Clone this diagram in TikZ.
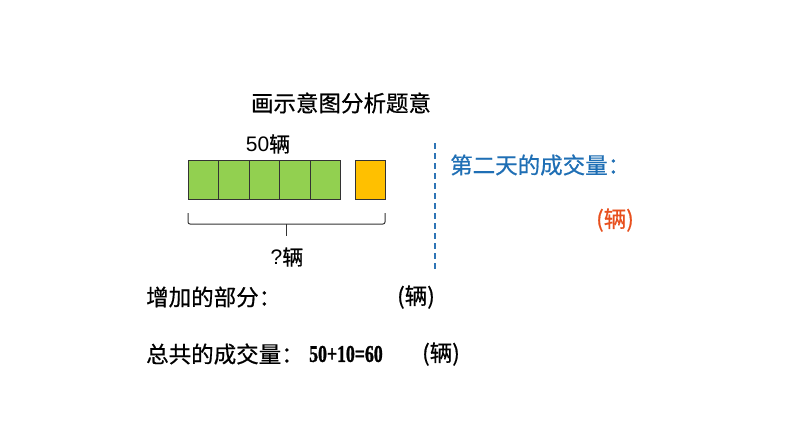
\documentclass[tikz,border=0pt]{standalone}
\usepackage{fontspec}
\setmainfont{Noto Sans CJK SC}
\newfontfamily\cjk{Noto Sans CJK SC}[FakeBold=0.6]
\newfontfamily\latinsans{Liberation Sans}
\newfontfamily\eqfont{Liberation Serif Bold}[FakeStretch=0.74,FakeBold=1.2]
\usetikzlibrary{positioning}
\definecolor{boxgreen}{HTML}{92D050}
\definecolor{boxorange}{HTML}{FFC000}
\definecolor{lineblue}{HTML}{2E75B6}
\definecolor{textblue}{HTML}{1F6FB5}
\definecolor{textred}{HTML}{E8501E}
\begin{document}
\begin{tikzpicture}[x=1pt,y=-1pt,
  cell/.style={draw=black!80,line width=0.8pt,minimum width=30.4pt,minimum height=39pt,inner sep=0pt,anchor=north west},
  txt/.style={font=\cjk\fontsize{22.5}{24}\selectfont,inner sep=0pt},
  brace/.style={draw=black!80,line width=1pt,rounded corners=2pt}]
\useasboundingbox (0,0) rectangle (794,447);
\fill[white] (0,0) rectangle (794,447);
\node[txt] (title) at (341,103) {画示意图分析题意};
\node[txt,font=\cjk\fontsize{21}{23}\selectfont] (fifty) at (268,144) {\latinsans 50\cjk 辆};
\node[cell,fill=boxgreen] (g1) at (188,160) {};
\node[cell,fill=boxgreen] (g2) at (218.4,160) {};
\node[cell,fill=boxgreen] (g3) at (248.8,160) {};
\node[cell,fill=boxgreen] (g4) at (279.2,160) {};
\node[cell,fill=boxgreen] (g5) at (309.6,160) {};
\node[cell,fill=boxorange] (o1) at (355,160) {};
\coordinate (bl) at (188,213);
\coordinate (br) at (385,213);
\coordinate (bm) at (286,224);
\coordinate (bt) at (286,236);
\draw[brace] (bl) -- (188,224) -- (br |- bm) -- (br);
\draw[draw=black!80,line width=1pt] (bm) -- (bt);
\node[txt,font=\cjk\fontsize{21}{23}\selectfont] (q) at (287,257) {\latinsans ?\cjk 辆};
\coordinate (d1) at (435,143);
\coordinate (d2) at (435,270);
\draw[lineblue,line width=1.2pt,dash pattern=on 6pt off 4pt] (d1) -- (d2);
\node[txt,text=textblue,anchor=west] (second) at (450,165) {第二天的成交量：};
\node[txt,text=textred] (unit1) at (615,220) {(辆)};
\node[txt,anchor=west] (inc) at (146,297) {增加的部分：};
\node[txt] (unit2) at (416,297) {(辆)};
\node[txt,anchor=west] (tot) at (146,354) {总共的成交量：};
\node[inner sep=0pt,anchor=west,font=\eqfont\fontsize{24}{26}\selectfont] (eq) at (309,354) {50+10=60};
\node[txt] (unit3) at (441,354) {(辆)};
\end{tikzpicture}
\end{document}
